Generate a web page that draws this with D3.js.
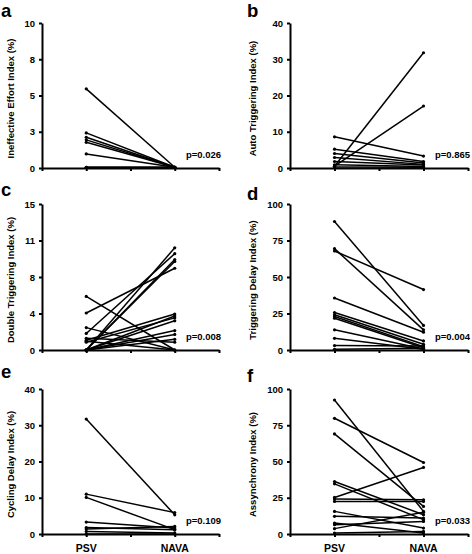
<!DOCTYPE html>
<html>
<head>
<meta charset="utf-8">
<script src="https://cdn.jsdelivr.net/npm/d3@7"></script>
<style>
  html, body { margin: 0; padding: 0; background: #fff; }
  svg { display: block; font-family: "Liberation Sans", Arial, sans-serif; }
</style>
</head>
<body>
<svg id="chart" width="472" height="554"></svg>
<script>
// ---- data ----
const conditions = ["PSV", "NAVA"];
const panelLetters = ["a", "b", "c", "d", "e", "f"];
const yTitles = ["Ineffective Effort Index (%)", "Auto Triggering Index (%)", "Double Triggering Index (%)",
                 "Triggering Delay Index (%)", "Cycling Delay Index (%)", "Assynchrony Index (%)"];
const pValues = ["p=0.026", "p=0.865", "p=0.008", "p=0.004", "p=0.109", "p=0.033"];
const yMax = [10, 40, 15, 100, 40, 100];
const yTickValues = [[0, 2.5, 5, 7.5, 10], [0, 10, 20, 30, 40], [0, 3.75, 7.5, 11.25, 15],
                     [0, 25, 50, 75, 100], [0, 10, 20, 30, 40], [0, 25, 50, 75, 100]];
const yTickLabels = [["0", "3", "5", "8", "10"], ["0", "10", "20", "30", "40"], ["0", "4", "8", "11", "15"],
                     ["0", "25", "50", "75", "100"], ["0", "10", "20", "30", "40"], ["0", "25", "50", "75", "100"]];

const aPSV  = [5.46, 2.42, 2.12, 1.94, 1.77, 0.97, 0.05, 0.05];
const aNAVA = [0.05, 0.05, 0.05, 0.05, 0.05, 0.05, 0.05, 0.05];
const bPSV  = [0.5, 0.5, 8.6, 5.2, 4.0, 2.9, 1.8, 0.9, 0.3];
const bNAVA = [31.8, 17.1, 3.3, 1.8, 1.4, 1.0, 0.8, 0.4, 0.2];
const cPSV  = [5.5, 3.8, 2.3, 1.7, 1.0, 0.8, 0, 0, 0, 0, 0, 0, 0, 0, 1.2, 0.9];
const cNAVA = [0, 8.4, 0, 9.9, 3.7, 3.3, 10.5, 9.3, 9.1, 3.5, 3.0, 2.0, 1.6, 1.1, 0.8, 0];
const dPSV  = [88, 69.4, 67.8, 35.6, 25.7, 24.1, 23, 21.8, 13.8, 8, 3, 0.5];
const dNAVA = [16.8, 13.8, 41.4, 12.2, 6.2, 3.9, 2.3, 1.5, 0.7, 0.5, 2.8, 1.2];
const ePSV  = [31.7, 11, 10.1, 3.3, 1.8, 1.4, 0.7, 0];
const eNAVA = [5.3, 5.9, 1.2, 1.65, 1.2, 2.1, 0.3, 0];
const fPSV  = [92.4, 79.8, 69, 36.2, 34.6, 25.2, 24.1, 22.5, 15.6, 12.2, 7.6, 6.4, 3.7, 0.7];
const fNAVA = [15.6, 49.3, 19, 13.3, 9.9, 45.9, 23.6, 22.5, 4.1, 11, 0.7, 8.7, 15, 1.8];

const psvSeries  = [aPSV, bPSV, cPSV, dPSV, ePSV, fPSV];
const navaSeries = [aNAVA, bNAVA, cNAVA, dNAVA, eNAVA, fNAVA];

// ---- layout ----
const svg = d3.select("#chart");
const colX = [[42, 219], [290, 468]];
const rowY = [[23, 168], [204, 350], [389, 534]];
const FONT = '"Liberation Sans", Arial, sans-serif';

panelLetters.forEach((letter, i) => {
  const col = i % 2, row = Math.floor(i / 2);
  const [x0, x1] = colX[col];
  const [yTop, yBot] = rowY[row];

  const x = d3.scaleLinear().domain([0, 4]).range([x0, x1]);
  const y = d3.scaleLinear().domain([0, yMax[i]]).range([yBot, yTop]);
  const g = svg.append("g");

  // x axis
  const xa = g.append("g").attr("transform", `translate(0,${yBot})`)
    .call(d3.axisBottom(x).tickValues([0, 1, 2, 3, 4]).tickSize(3).tickSizeOuter(0).tickFormat(""));
  xa.select(".domain").attr("stroke", "#000").attr("stroke-width", 2);
  xa.selectAll(".tick line").attr("stroke", "#000").attr("stroke-width", 2);

  // y axis
  const ya = g.append("g").attr("transform", `translate(${x0},0)`)
    .call(d3.axisLeft(y).tickValues(yTickValues[i]).tickSize(3).tickSizeOuter(0)
      .tickFormat((d, k) => yTickLabels[i][k]));
  ya.select(".domain").attr("stroke", "#000").attr("stroke-width", 2);
  ya.selectAll(".tick line").attr("stroke", "#000").attr("stroke-width", 2);
  ya.selectAll(".tick text").attr("font-family", FONT).attr("font-size", 9.5)
    .attr("font-weight", "bold").attr("fill", "#000").attr("x", -7);

  // condition labels (bottom row)
  if (row === 2) {
    conditions.forEach((c, k) => {
      g.append("text").attr("x", x(k * 2 + 1)).attr("y", 552)
        .attr("text-anchor", "middle").attr("font-family", FONT)
        .attr("font-size", 10.5).attr("font-weight", "bold").text(c);
    });
  }

  // y title
  const tx = col === 0 ? 11 : 253;
  const ty = (yTop + yBot) / 2 + 3;
  g.append("text").attr("transform", `translate(${tx},${ty}) rotate(-90)`)
    .attr("text-anchor", "middle").attr("dy", "0.35em").attr("font-family", FONT)
    .attr("font-size", 9.5).attr("font-weight", "bold").text(yTitles[i]);

  // panel letter
  g.append("text").attr("x", col === 0 ? 1 : 247)
    .attr("y", [17, 196, 378][row] + (col === 1 && row > 0 ? 4 : 0))
    .attr("font-family", FONT).attr("font-size", 18.5).attr("font-weight", "bold").text(letter);

  // p value
  g.append("text").attr("x", x1 + 2).attr("y", yBot - 10).attr("text-anchor", "end")
    .attr("font-family", FONT).attr("font-size", 9.5).attr("font-weight", "bold").text(pValues[i]);

  // paired lines
  const pairs = psvSeries[i].map((v, k) => [v, navaSeries[i][k]]);
  g.selectAll("line.pair").data(pairs).enter().append("line")
    .attr("class", "pair")
    .attr("x1", x(1)).attr("x2", x(3))
    .attr("y1", d => y(d[0])).attr("y2", d => y(d[1]))
    .attr("stroke", "#000").attr("stroke-width", 1.5);

  const pts = [];
  pairs.forEach(d => { pts.push([1, d[0]]); pts.push([3, d[1]]); });
  g.selectAll("circle.pt").data(pts).enter().append("circle")
    .attr("class", "pt").attr("cx", d => x(d[0])).attr("cy", d => y(d[1]))
    .attr("r", 1.6).attr("fill", "#000");
});
</script>
</body>
</html>
